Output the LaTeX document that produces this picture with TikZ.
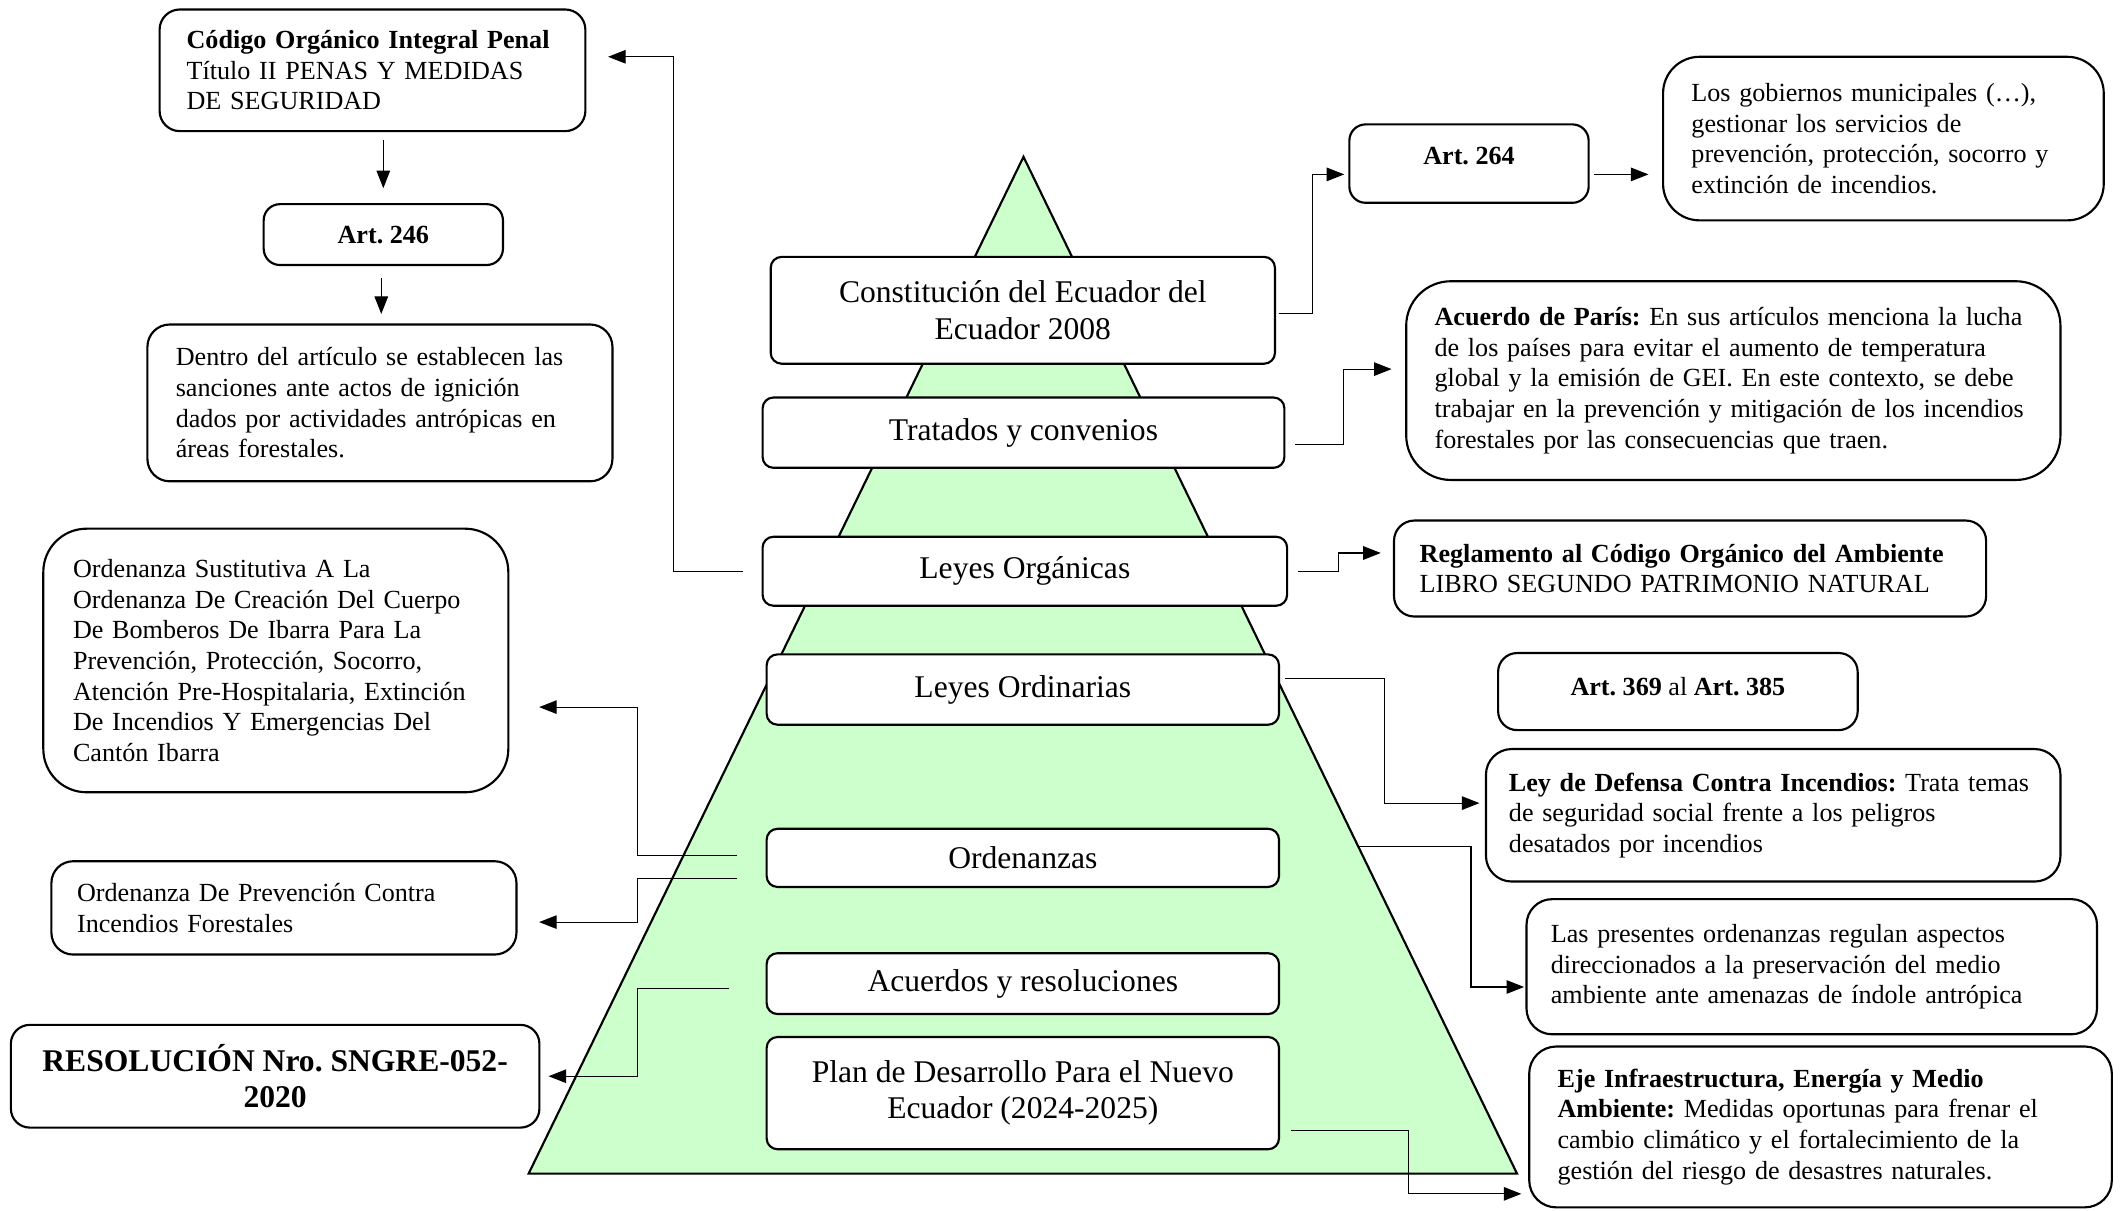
\documentclass[tikz,border=0pt]{standalone}
\usepackage{fontspec}
\setmainfont{Liberation Serif}
\usetikzlibrary{arrows.meta,calc}
\frenchspacing

\begin{document}
\begin{tikzpicture}[x=0.02cm, y=-0.02cm,
  caja/.style={draw, line width=0.9pt, fill=white, rounded corners=0.3cm, inner ysep=2pt, align=left, font=\fontsize{11}{12.9}\selectfont},
  nivel/.style={draw, line width=0.9pt, fill=white, rounded corners=0.16cm, inner sep=2pt, align=center, font=\fontsize{13.3}{15.3}\selectfont},
  flecha/.style={line width=0.5pt, -{Triangle[length=0.26cm,width=0.2cm]}}]
  \useasboundingbox (0,0) rectangle (1568,895);

  \coordinate (cima) at (757,116);
  \coordinate (baseizq) at (391,868);
  \coordinate (baseder) at (1122,868);
  \fill[green!20] (cima) -- (baseder) -- (baseizq) -- cycle;
  \draw[line width=0.9pt, line join=miter] (cima) -- (baseder) -- (baseizq) -- cycle;
  \coordinate (bordeder) at ($(cima)!0.678!(baseder)$);

  \node[nivel, minimum width=7.46cm, minimum height=1.58cm] (constitucion) at (756.5,229.5) {Constitución del Ecuador del\\Ecuador 2008};
  \node[nivel, minimum width=7.72cm, minimum height=1.04cm] (tratados) at (757,320) {Tratados y convenios};
  \node[nivel, minimum width=7.76cm, minimum height=1.02cm] (organicas) at (758,422.5) {Leyes Orgánicas};
  \node[nivel, minimum width=7.58cm, minimum height=1.04cm] (ordinarias) at (756.5,510) {Leyes Ordinarias};
  \node[nivel, minimum width=7.58cm, minimum height=0.86cm] (ordenanzas) at (756.5,634.5) {Ordenanzas};
  \node[nivel, minimum width=7.58cm, minimum height=0.9cm] (acuerdos) at (756.5,727.5) {Acuerdos y resoluciones};
  \node[nivel, minimum width=7.58cm, minimum height=1.66cm] (plan) at (756.5,808.5) {Plan de Desarrollo Para el Nuevo\\Ecuador (2024-2025)};

  \node[caja, inner xsep=0.4cm, text width=5.5cm, minimum height=1.8cm] (codigo) at (275.5,52) {\textbf{Código Orgánico Integral Penal}\\Título II PENAS Y MEDIDAS\\DE SEGURIDAD};
  \node[caja, align=center, minimum width=3.54cm, minimum height=0.9cm, rounded corners=0.24cm] (art246) at (283.5,173.5) {\textbf{Art. 246}};
  \node[caja, inner xsep=0.42cm, text width=6.04cm, minimum height=2.32cm, rounded corners=0.33cm] (dentro) at (281,298) {Dentro del artículo se establecen las\\sanciones ante actos de ignición\\dados por actividades antrópicas en\\áreas forestales.};
  \node[caja, inner xsep=0.44cm, text width=6cm, minimum height=3.9cm, rounded corners=0.64cm] (ordsust) at (204,488.5) {Ordenanza Sustitutiva A La\\Ordenanza De Creación Del Cuerpo\\De Bomberos De Ibarra Para La\\Prevención, Protección, Socorro,\\Atención Pre-Hospitalaria, Extinción\\De Incendios Y Emergencias Del\\Cantón Ibarra};
  \node[caja, inner xsep=0.38cm, text width=6.12cm, minimum height=1.38cm, rounded corners=0.32cm] (ordprev) at (210,671.5) {Ordenanza De Prevención Contra\\Incendios Forestales};
  \node[caja, align=center, minimum width=7.82cm, minimum height=1.52cm, rounded corners=0.28cm, font=\fontsize{13.3}{15.3}\selectfont\bfseries] (resolucion) at (203.5,796) {RESOLUCIÓN Nro. SNGRE-052-\\2020};

  \node[caja, align=center, minimum width=3.54cm, minimum height=1.16cm, rounded corners=0.24cm, text depth=0.22cm] (art264) at (1086.5,121) {\textbf{Art. 264}};
  \node[caja, inner xsep=0.42cm, text width=5.68cm, minimum height=2.42cm, rounded corners=0.54cm] (gobiernos) at (1393,102.5) {Los gobiernos municipales (…),\\gestionar los servicios de\\prevención, protección, socorro y\\extinción de incendios.};
  \node[caja, inner xsep=0.42cm, text width=8.84cm, minimum height=2.94cm, rounded corners=0.66cm] (paris) at (1282,281.5) {\textbf{Acuerdo de París:} En sus artículos menciona la lucha\\de los países para evitar el aumento de temperatura\\global y la emisión de GEI. En este contexto, se debe\\trabajar en la prevención y mitigación de los incendios\\forestales por las consecuencias que traen.};
  \node[caja, inner xsep=0.38cm, text width=8cm, minimum height=1.42cm] (reglamento) at (1250,420.5) {\textbf{Reglamento al Código Orgánico del Ambiente}\\LIBRO SEGUNDO PATRIMONIO NATURAL};
  \node[caja, align=center, minimum width=5.32cm, minimum height=1.14cm, rounded corners=0.28cm, text depth=0.16cm] (art369) at (1241,511.5) {\textbf{Art. 369} al \textbf{Art. 385}};
  \node[caja, inner xsep=0.34cm, text width=7.82cm, minimum height=1.96cm, rounded corners=0.38cm] (defensa) at (1311.5,603) {\textbf{Ley de Defensa Contra Incendios:} Trata temas\\de seguridad social frente a los peligros\\desatados por incendios};
  \node[caja, inner xsep=0.36cm, text width=7.72cm, minimum height=2cm, rounded corners=0.38cm] (presentes) at (1340,715) {Las presentes ordenanzas regulan aspectos\\direccionados a la preservación del medio\\ambiente ante amenazas de índole antrópica};
  \node[caja, inner xsep=0.42cm, text width=7.78cm, minimum height=2.38cm, rounded corners=0.4cm] (eje) at (1346.5,833.5) {\textbf{Eje Infraestructura, Energía y Medio}\\\textbf{Ambiente:} Medidas oportunas para frenar el\\cambio climático y el fortalecimiento de la\\gestión del riesgo de desastres naturales.};

  \draw[flecha, shorten <=0.12cm, shorten >=0.22cm] (codigo.south -| art246.north) -- (art246.north);
  \draw[flecha, shorten <=0.18cm, shorten >=0.14cm] ([xshift=-0.03cm]art246.south) -- ([xshift=-0.03cm]art246.south |- dentro.north);
  \draw[flecha, shorten <=0.28cm, shorten >=0.32cm] (organicas.west) -- ++(-65,0) |- ([yshift=0.2cm]codigo.east);
  \draw[flecha, shorten <=0.04cm, shorten >=0.06cm] ([yshift=-0.05cm]constitucion.east) -- ++(27,0) |- ([yshift=-0.16cm]art264.west);
  \draw[flecha, shorten <=0.06cm, shorten >=0.2cm] ([yshift=-0.16cm]art264.east) -- ([yshift=-0.16cm]art264.east -| gobiernos.west);
  \draw[flecha, shorten <=0.14cm, shorten >=0.2cm] ([yshift=-0.18cm]tratados.east) -- ++(43,0) |- ([yshift=0.17cm]paris.west);
  \draw[flecha, shorten <=0.14cm, shorten >=0.18cm] (organicas.east) -- ++(37,0) |- ([yshift=0.23cm]reglamento.west);
  \draw[flecha, shorten <=0.08cm, shorten >=0.08cm] ([yshift=0.16cm]ordinarias.east) -- ++(77,0) |- ([yshift=0.18cm]defensa.west);
  \draw[flecha, shorten >=0.02cm] (bordeder) -- ++(83.5,0) |- ([yshift=-0.3cm]presentes.west);
  \draw[flecha, shorten <=0.16cm, shorten >=0.1cm] ([yshift=-0.55cm]plan.east) -- ++(95,0) |- ([yshift=-0.99cm]eje.west);
  \draw[flecha, shorten <=0.42cm, shorten >=0.44cm] ([yshift=0.03cm]ordenanzas.west) -- ++(-95,0) |- ([yshift=-0.69cm]ordsust.east);
  \draw[flecha, shorten <=0.42cm, shorten >=0.32cm] ([yshift=-0.31cm]ordenanzas.west) -- ++(-95,0) |- ([yshift=-0.21cm]ordprev.east);
  \draw[flecha, shorten <=0.54cm, shorten >=0.12cm] ([yshift=-0.07cm]acuerdos.west) -- ++(-95,0) |- (resolucion.east);
\end{tikzpicture}
\end{document}
